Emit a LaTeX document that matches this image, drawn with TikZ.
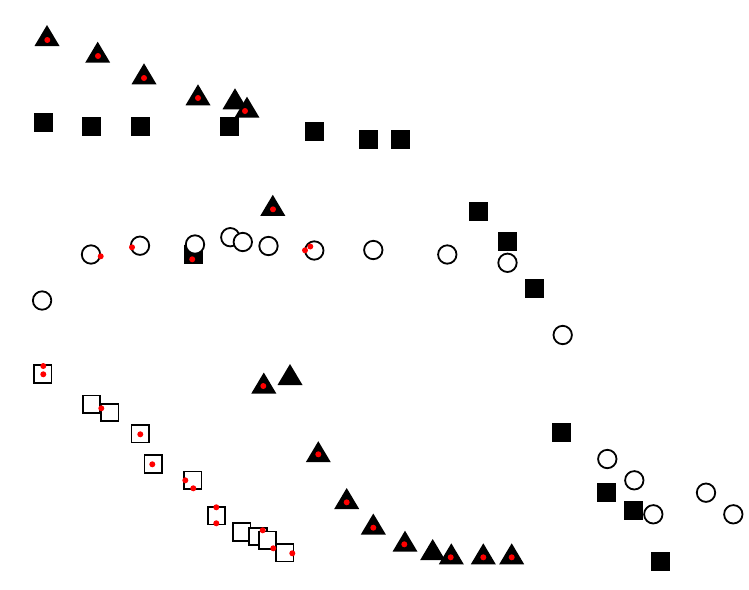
\documentclass[tikz,border=0pt]{standalone}
\begin{document}
\begin{tikzpicture}[x=1pt,y=-1pt,
  tri/.pic={\fill[black] (0,-10.5) -- (12.5,10.5) -- (-12.5,10.5) -- cycle;},
  bsq/.pic={\fill[black] (-9.5,-9.5) rectangle (9.5,9.5);},
  osq/.pic={\draw[line width=1.8pt,fill=white] (-8.7,-8.7) rectangle (8.7,8.7);},
  circ/.pic={\draw[line width=1.8pt,fill=white] (0,0) circle (9.2);},
  rdot/.pic={\fill[red] (0,0) circle (3);}]
\useasboundingbox (0,0) rectangle (749,589);
% filled squares
\foreach \x/\y in {43/122, 91/126, 140/126, 229/126, 314/131, 368/139, 400/139,
  193.7/254, 478.5/211.3, 507.2/241.3, 534.8/288.3,
  561.7/432.7, 606.7/492.7, 633.3/510, 660.7/561}
  \pic at (\x,\y) {bsq};
% triangles
\foreach \x/\y in {47/35.5, 97.7/52.2, 144/73.8, 198/94.8, 235/98.8, 247/107.2,
  272.8/205.3, 263.8/383, 290/374.5, 318.3/451.7, 346.7/498.5, 373.3/524,
  405/541.2, 432.7/549.5, 451.3/553.8, 483.3/553.8, 511.7/553.8}
  \pic at (\x,\y) {tri};
% open squares
\foreach \x/\y in {42.8/374, 91.3/404.2, 109.7/412.3, 140.2/433.8, 153.2/464,
  192.7/480.2, 216.3/515.7, 241.7/532, 258/536.3, 267.5/540.2, 284.8/552.8}
  \pic at (\x,\y) {osq};
% circles
\foreach \x/\y in {91/254.5, 140/245.7, 195/244.5, 230.3/237.2, 242.8/242, 268.5/246,
  314.3/250.5, 373.3/250, 447.3/254.5, 507.5/262.8, 42.1/300.5, 562.7/335,
  607.3/459, 634.3/480.3, 653.3/514.3, 706/492.7, 733.3/514.3}
  \pic at (\x,\y) {circ};
% red dots
\foreach \x/\y in {47.3/40, 98/56, 144/78, 198/98, 245/111, 273/209.3,
  263.3/386, 318.3/454.3, 346.7/502.3, 373.3/527.7, 404.3/544.3, 450.7/557.3,
  483.3/557.3, 511.7/557.3,
  100.7/256.3, 132/247.3, 310.3/246.5, 305/250.3, 192.2/259.3,
  43.3/366, 43.3/374.3, 101.3/408.3, 140.3/434.3, 152.3/464.3, 185.3/480.3,
  193.3/488.3, 216.3/507.3, 216.3/523.3, 262.7/530.3, 273.3/548.3, 292.3/553.3}
  \pic at (\x,\y) {rdot};
\end{tikzpicture}
\end{document}
